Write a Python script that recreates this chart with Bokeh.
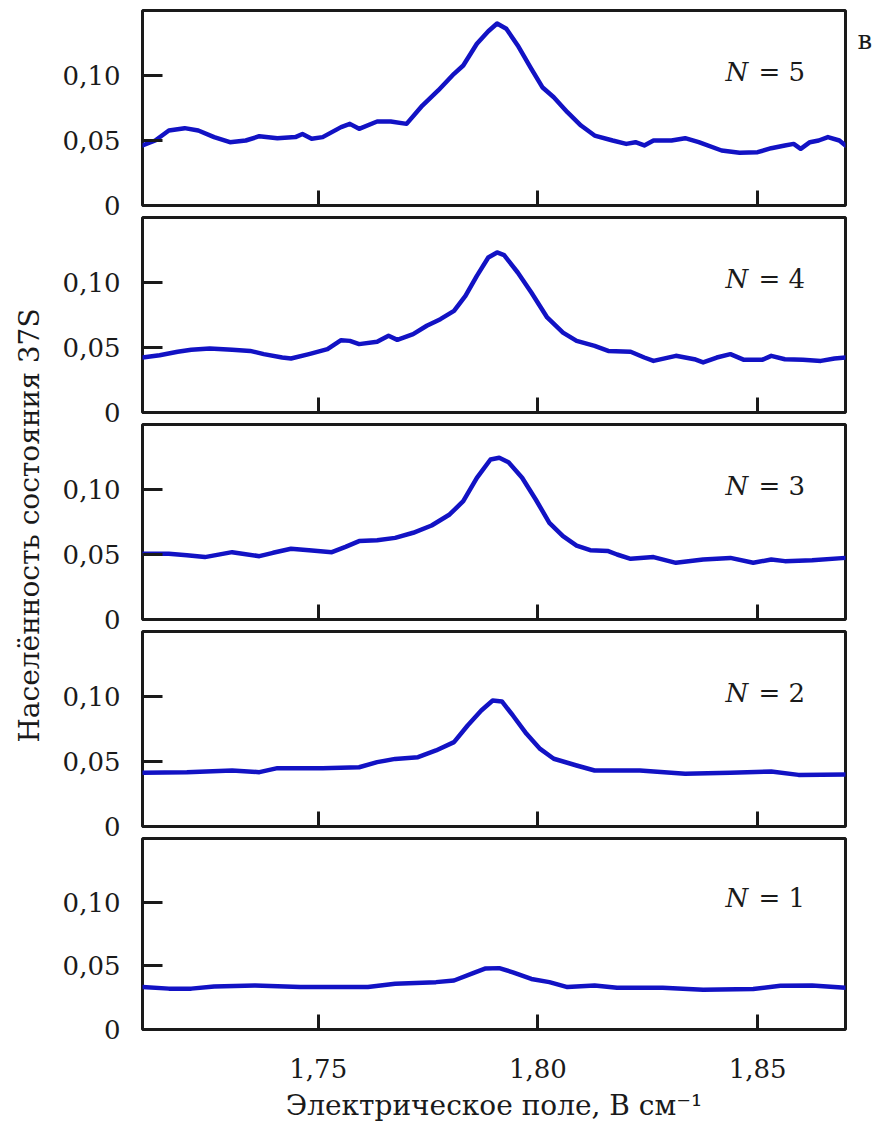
from math import pi
from bokeh.plotting import figure
from bokeh.models import Range1d, FixedTicker, CustomJSTickFormatter, Label, LinearAxis
from bokeh.layouts import row, column
from bokeh.embed import file_html
from bokeh.resources import INLINE

# ---------------- data ----------------
N5_x = [1.7100, 1.7129, 1.7160, 1.7196, 1.7227, 1.7263, 1.7299, 1.7335, 1.7366, 1.7407,
        1.7448, 1.7464, 1.7485, 1.7510, 1.7552, 1.7572, 1.7593, 1.7634, 1.7665, 1.7701,
        1.7737, 1.7773, 1.7809, 1.7830, 1.7861, 1.7887, 1.7907, 1.7928, 1.7954, 1.7985,
        1.8010, 1.8036, 1.8067, 1.8098, 1.8129, 1.8170, 1.8201, 1.8222, 1.8242, 1.8263,
        1.8304, 1.8335, 1.8366, 1.8418, 1.8459, 1.8500, 1.8531, 1.8562, 1.8582, 1.8598,
        1.8619, 1.8639, 1.8660, 1.8686, 1.8700]
N5_y = [0.0462, 0.0500, 0.0577, 0.0595, 0.0577, 0.0526, 0.0487, 0.0500, 0.0533, 0.0518,
        0.0526, 0.0550, 0.0513, 0.0526, 0.0603, 0.0628, 0.0590, 0.0646, 0.0646, 0.0628,
        0.0769, 0.0885, 0.1013, 0.1077, 0.1244, 0.1340, 0.1400, 0.1360, 0.1231, 0.1051,
        0.0910, 0.0833, 0.0718, 0.0615, 0.0538, 0.0500, 0.0474, 0.0487, 0.0462, 0.0500,
        0.0500, 0.0518, 0.0487, 0.0423, 0.0405, 0.0410, 0.0441, 0.0462, 0.0474, 0.0436,
        0.0487, 0.0500, 0.0526, 0.0500, 0.0462]

N4_x = [1.7100, 1.7139, 1.7180, 1.7211, 1.7253, 1.7304, 1.7345, 1.7376, 1.7418, 1.7438,
        1.7479, 1.7521, 1.7552, 1.7572, 1.7593, 1.7634, 1.7660, 1.7680, 1.7716, 1.7747,
        1.7778, 1.7809, 1.7835, 1.7861, 1.7887, 1.7907, 1.7923, 1.7954, 1.7985, 1.8021,
        1.8057, 1.8088, 1.8129, 1.8160, 1.8211, 1.8242, 1.8263, 1.8314, 1.8356, 1.8376,
        1.8407, 1.8438, 1.8469, 1.8510, 1.8531, 1.8562, 1.8603, 1.8644, 1.8675, 1.8700]
N4_y = [0.0423, 0.0441, 0.0467, 0.0482, 0.0492, 0.0482, 0.0474, 0.0449, 0.0423, 0.0415,
        0.0449, 0.0487, 0.0556, 0.0551, 0.0526, 0.0544, 0.0590, 0.0559, 0.0603, 0.0667,
        0.0718, 0.0782, 0.0897, 0.1051, 0.1192, 0.1231, 0.1210, 0.1077, 0.0923, 0.0731,
        0.0615, 0.0551, 0.0513, 0.0474, 0.0467, 0.0423, 0.0397, 0.0436, 0.0410, 0.0385,
        0.0423, 0.0449, 0.0405, 0.0405, 0.0436, 0.0410, 0.0405, 0.0397, 0.0415, 0.0423]

N3_x = [1.7100, 1.7160, 1.7201, 1.7242, 1.7304, 1.7366, 1.7397, 1.7438, 1.7479, 1.7531,
        1.7562, 1.7593, 1.7634, 1.7675, 1.7716, 1.7758, 1.7799, 1.7830, 1.7861, 1.7892,
        1.7912, 1.7933, 1.7964, 1.7995, 1.8026, 1.8057, 1.8088, 1.8119, 1.8160, 1.8180,
        1.8211, 1.8263, 1.8314, 1.8376, 1.8438, 1.8490, 1.8531, 1.8562, 1.8624, 1.8700]
N3_y = [0.0505, 0.0505, 0.0495, 0.0480, 0.0518, 0.0487, 0.0513, 0.0544, 0.0533, 0.0518,
        0.0559, 0.0603, 0.0610, 0.0628, 0.0667, 0.0723, 0.0808, 0.0910, 0.1090, 0.1231,
        0.1244, 0.1210, 0.1090, 0.0923, 0.0744, 0.0641, 0.0569, 0.0533, 0.0526, 0.0500,
        0.0467, 0.0480, 0.0436, 0.0462, 0.0474, 0.0436, 0.0462, 0.0449, 0.0456, 0.0474]

N2_x = [1.7100, 1.7201, 1.7304, 1.7366, 1.7407, 1.7510, 1.7593, 1.7634, 1.7675, 1.7727,
        1.7768, 1.7809, 1.7840, 1.7871, 1.7897, 1.7918, 1.7943, 1.7974, 1.8005, 1.8036,
        1.8088, 1.8129, 1.8232, 1.8335, 1.8438, 1.8531, 1.8593, 1.8700]
N2_y = [0.0413, 0.0418, 0.0431, 0.0418, 0.0449, 0.0449, 0.0456, 0.0495, 0.0520, 0.0533,
        0.0585, 0.0649, 0.0777, 0.0892, 0.0969, 0.0962, 0.0854, 0.0713, 0.0597, 0.0521,
        0.0469, 0.0431, 0.0431, 0.0405, 0.0413, 0.0423, 0.0397, 0.0400]

N1_x = [1.7100, 1.7160, 1.7211, 1.7263, 1.7356, 1.7459, 1.7613, 1.7675, 1.7768, 1.7809,
        1.7851, 1.7881, 1.7912, 1.7943, 1.7985, 1.8026, 1.8067, 1.8129, 1.8180, 1.8284,
        1.8376, 1.8490, 1.8552, 1.8624, 1.8700]
N1_y = [0.0333, 0.0321, 0.0321, 0.0338, 0.0346, 0.0333, 0.0333, 0.0359, 0.0372, 0.0385,
        0.0441, 0.0480, 0.0482, 0.0449, 0.0397, 0.0372, 0.0333, 0.0346, 0.0328, 0.0328,
        0.0313, 0.0318, 0.0344, 0.0346, 0.0328]

panel_N = [5, 4, 3, 2, 1]
panel_x = [N5_x, N4_x, N3_x, N2_x, N1_x]
panel_y = [N5_y, N4_y, N3_y, N2_y, N1_y]

x_ticks = [1.75, 1.80, 1.85]
y_ticks = [0, 0.05, 0.10]

y_title = "Населённость состояния 37S"
x_title = "Электрическое поле, В см\u207b\u00b9"
corner_label = "в"

# ---------------- styling ----------------
FONT = "DejaVu Serif"
INK = "#1a1a1a"
LINE = "#1212c4"
FS_TICK = "26px"
FS_TITLE = "28px"

fmt = CustomJSTickFormatter(code="""
    if (Math.abs(tick) < 1e-9) { return "0"; }
    return tick.toFixed(2).replace(".", ",");
""")
blank = CustomJSTickFormatter(code="return '';")

OVER = 20          # vertical overlap between neighbouring canvases
figs = []
for i, (n, xs, ys) in enumerate(zip(panel_N, panel_x, panel_y)):
    last = (i == len(panel_N) - 1)
    top = 10 if i == 0 else 16
    bottom = 91 if last else 16
    p = figure(width=823, height=top + 195 + bottom,
               x_range=Range1d(1.71, 1.87), y_range=Range1d(0, 0.15),
               output_backend="svg", toolbar_location=None,
               min_border_left=90, min_border_right=30,
               min_border_top=top, min_border_bottom=bottom)
    if i > 0:
        p.styles = {"margin-top": "-%dpx" % OVER}
    p.background_fill_color = "white"
    p.border_fill_color = None
    p.outline_line_color = INK
    p.outline_line_width = 3
    p.grid.visible = False

    p.line(xs, ys, line_color=LINE, line_width=4.5,
           line_join="round", line_cap="round")

    for ax in (p.xaxis[0], p.yaxis[0]):
        ax.axis_line_color = None
        ax.major_tick_out = 0
        ax.major_tick_line_color = INK
        ax.major_tick_line_width = 3
        ax.minor_tick_line_color = None
        ax.major_label_text_font = FONT
        ax.major_label_text_font_size = FS_TICK
        ax.major_label_text_color = INK

    p.yaxis.ticker = FixedTicker(ticks=y_ticks)
    p.yaxis.formatter = fmt
    p.yaxis.major_tick_in = 20
    p.yaxis.major_label_standoff = 22

    p.xaxis.ticker = FixedTicker(ticks=x_ticks)
    p.xaxis.major_tick_in = 15
    if last:
        p.xaxis.formatter = fmt
        p.xaxis.major_label_standoff = 29
        p.xaxis.axis_label = x_title
        p.xaxis.axis_label_text_font = FONT
        p.xaxis.axis_label_text_font_size = FS_TITLE
        p.xaxis.axis_label_text_font_style = "normal"
        p.xaxis.axis_label_text_color = INK
        p.xaxis.axis_label_standoff = 8
    else:
        p.xaxis.formatter = blank
        p.xaxis.major_label_text_font_size = "1px"
        p.xaxis.major_label_standoff = 0

    p.add_layout(Label(x=1.8427, y=0.103, text="N", text_font=FONT,
                       text_font_style="italic", text_font_size=FS_TICK,
                       text_color=INK, text_baseline="middle"))
    p.add_layout(Label(x=1.8502, y=0.103, text="= %d" % n, text_font=FONT,
                       text_font_size=FS_TICK, text_color=INK,
                       text_baseline="middle"))
    if i == 0:
        corner = LinearAxis(ticker=FixedTicker(ticks=[0.127]),
                            formatter=CustomJSTickFormatter(args=dict(lab=corner_label),
                                                            code="return lab;"),
                            axis_line_color=None, major_tick_line_color=None,
                            minor_tick_line_color=None,
                            major_tick_in=0, major_tick_out=0,
                            major_label_standoff=12,
                            major_label_text_font=FONT,
                            major_label_text_font_size=FS_TICK,
                            major_label_text_color=INK)
        p.add_layout(corner, "right")
    figs.append(p)

total_h = sum(f.height for f in figs) - OVER * (len(figs) - 1)

tp = figure(width=52, height=total_h, x_range=Range1d(0, 52),
            y_range=Range1d(total_h, 0), output_backend="svg",
            toolbar_location=None, min_border=0)
tp.outline_line_color = None
tp.axis.visible = False
tp.grid.visible = False
tp.background_fill_color = None
tp.border_fill_color = None
tp.add_layout(Label(x=29, y=525, text=y_title, angle=pi / 2, text_font=FONT,
                    text_font_size=FS_TITLE, text_color=INK,
                    text_align="center", text_baseline="middle"))

layout = row(tp, column(*figs, spacing=0), spacing=0)

open("out.html", "w").write(file_html(layout, INLINE))
